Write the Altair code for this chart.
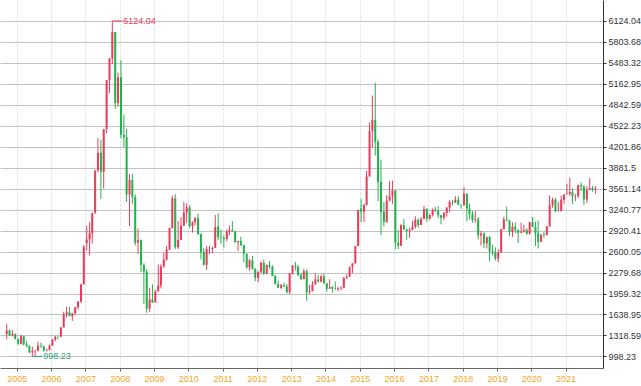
import altair as alt
import pandas as pd

# Monthly OHLC, Sep 2004 .. Nov 2021
opens = [
    1342, 1396, 1320, 1340,  # 2004 Sep-Dec
    1261, 1190, 1306, 1181, 1159, 1060, 1080, 1083, 1162, 1155, 1092, 1099,  # 2005
    1163, 1259, 1299, 1298, 1442, 1641, 1672, 1612, 1658, 1752, 1837, 2099,  # 2006
    2728, 2786, 2881, 3196, 3841, 4109, 3820, 4471, 5218, 5552, 5954, 4871,  # 2007
    5266, 4383, 4348, 3473, 3693, 3433, 2736, 2775, 2397, 2293, 1729, 1871,  # 2008
    1821, 1991, 2082, 2373, 2477, 2633, 2959, 3412, 2667, 2779, 2996, 3195,  # 2009
    3277, 2989, 3051, 3110, 2870, 2592, 2398, 2638, 2639, 2656, 2979, 2820,  # 2010
    2808, 2790, 2905, 2928, 2911, 2743, 2762, 2701, 2568, 2359, 2468, 2333,  # 2011
    2199, 2292, 2428, 2263, 2397, 2373, 2226, 2103, 2047, 2086, 2069, 1980,  # 2012
    2269, 2385, 2366, 2237, 2178, 2301, 1979, 1994, 2098, 2175, 2142, 2221,  # 2013
    2116, 2033, 2056, 2033, 2026, 2039, 2048, 2202, 2217, 2364, 2420, 2683,  # 2014
    3258, 3210, 3310, 3748, 4441, 4612, 4277, 3664, 3206, 3053, 3383, 3445,  # 2015
    3536, 2738, 2688, 3004, 2938, 2917, 2930, 2979, 3085, 3005, 3100, 3250,  # 2016
    3104, 3159, 3242, 3223, 3155, 3117, 3192, 3273, 3361, 3349, 3393, 3317,  # 2017
    3307, 3481, 3259, 3169, 3082, 3095, 2847, 2876, 2725, 2821, 2603, 2588,  # 2018
    2494, 2585, 2941, 3091, 3078, 2899, 2979, 2933, 2886, 2905, 2929, 2872,  # 2019
    3050, 2977, 2880, 2750, 2860, 2852, 2985, 3310, 3396, 3218, 3225, 3392,  # 2020
    3474, 3483, 3509, 3442, 3447, 3615, 3591, 3397, 3544, 3568, 3547,        # 2021
]
highs = [
    1496, 1410, 1399, 1350,
    1274, 1329, 1313, 1232, 1170, 1147, 1100, 1223, 1210, 1160, 1117, 1180,
    1260, 1311, 1307, 1445, 1680, 1757, 1758, 1663, 1756, 1839, 2101, 2698,
    2994, 3049, 3197, 3842, 4335, 4312, 4472, 5221, 5559, 6124.04, 5955, 5336,
    5523, 4695, 4473, 3786, 3786, 3474, 2952, 2785, 2424, 2333, 2049, 2100,
    2012, 2402, 2406, 2579, 2688, 2966, 3454, 3478, 3068, 3123, 3361, 3338,
    3306, 3060, 3128, 3181, 2873, 2651, 2681, 2690, 2676, 3159, 3186, 2937,
    2851, 2937, 3000, 3067, 2912, 2767, 2827, 2707, 2567, 2487, 2536, 2353,
    2300, 2451, 2478, 2401, 2453, 2389, 2242, 2156, 2104, 2121, 2103, 2276,
    2394, 2444, 2398, 2269, 2335, 2327, 2092, 2149, 2270, 2243, 2244, 2260,
    2119, 2177, 2076, 2146, 2061, 2069, 2206, 2249, 2371, 2423, 2683, 3239,
    3406, 3331, 3835, 4573, 4986, 5178, 4317, 4006, 3357, 3459, 3678, 3684,
    3539, 2933, 3019, 3097, 2950, 2961, 3071, 3140, 3108, 3128, 3301, 3265,
    3171, 3260, 3283, 3295, 3160, 3204, 3276, 3387, 3391, 3447, 3451, 3318,
    3587, 3495, 3334, 3220, 3219, 3128, 2915, 2895, 2827, 2838, 2703, 2666,
    2630, 2947, 3129, 3288, 3079, 3047, 3048, 2935, 3042, 3010, 2958, 3051,
    3127, 3058, 3075, 2863, 2897, 2993, 3458, 3425, 3421, 3358, 3457, 3474,
    3637, 3732, 3565, 3481, 3625, 3655, 3615, 3598, 3723, 3603, 3600,
]
lows = [
    1259, 1307, 1302, 1259,
    1177, 1181, 1166, 1136, 1043, 998.23, 1004, 1081, 1127, 1067, 1074, 1091,
    1163, 1232, 1261, 1297, 1441, 1587, 1613, 1542, 1627, 1715, 1816, 2097,
    2618, 2541, 2723, 3173, 3812, 3405, 3563, 4406, 5022, 5462, 4778, 4812,
    4330, 4195, 3357, 2990, 3333, 2693, 2566, 2284, 1802, 1665, 1679, 1814,
    1844, 1991, 2037, 2352, 2461, 2623, 2955, 2639, 2640, 2780, 2995, 3039,
    2963, 2890, 2998, 2852, 2481, 2382, 2319, 2558, 2573, 2657, 2774, 2721,
    2661, 2755, 2850, 2910, 2735, 2610, 2683, 2437, 2337, 2307, 2319, 2149,
    2132, 2272, 2242, 2252, 2336, 2223, 2100, 2040, 2029, 2058, 1959, 1949,
    2246, 2311, 2231, 2161, 2178, 1849, 1952, 1992, 2094, 2125, 2131, 2104,
    1984, 2033, 1974, 2015, 1991, 2010, 2036, 2180, 2214, 2270, 2415, 2683,
    3050, 3050, 3305, 3749, 4188, 4069, 3373, 2850, 2983, 3039, 3370, 3327,
    2638, 2638, 2686, 2936, 2781, 2808, 2929, 2951, 2969, 3008, 3098, 3056,
    3083, 3136, 3205, 3111, 3016, 3082, 3132, 3203, 3308, 3340, 3308, 3254,
    3306, 3062, 3091, 3041, 3041, 2782, 2691, 2653, 2644, 2449, 2543, 2463,
    2440, 2586, 2938, 3062, 2838, 2822, 2880, 2733, 2887, 2891, 2860, 2858,
    2969, 2686, 2647, 2743, 2812, 2847, 2984, 3268, 3202, 3214, 3209, 3325,
    3474, 3453, 3329, 3373, 3416, 3527, 3312, 3344, 3545, 3515, 3484,
]
closes = [
    1396, 1320, 1340, 1266,
    1191, 1306, 1181, 1159, 1060, 1080, 1083, 1162, 1155, 1092, 1099, 1161,
    1258, 1299, 1298, 1440, 1641, 1672, 1612, 1658, 1752, 1837, 2099, 2675,
    2786, 2881, 3183, 3841, 4109, 3820, 4471, 5218, 5552, 5954, 4871, 5262,
    4383, 4348, 3473, 3693, 3433, 2736, 2775, 2397, 2293, 1729, 1871, 1821,
    1991, 2082, 2373, 2477, 2633, 2959, 3412, 2667, 2779, 2996, 3195, 3277,
    2989, 3051, 3110, 2870, 2592, 2398, 2638, 2639, 2656, 2979, 2820, 2808,
    2790, 2905, 2928, 2911, 2743, 2762, 2701, 2568, 2359, 2468, 2333, 2199,
    2292, 2428, 2263, 2397, 2373, 2226, 2103, 2047, 2086, 2069, 1980, 2269,
    2385, 2366, 2237, 2178, 2301, 1979, 1994, 2098, 2175, 2142, 2221, 2116,
    2033, 2056, 2033, 2026, 2039, 2048, 2202, 2217, 2364, 2420, 2683, 3235,
    3210, 3310, 3748, 4441, 4612, 4277, 3664, 3206, 3053, 3383, 3445, 3539,
    2738, 2688, 3004, 2938, 2917, 2930, 2979, 3085, 3005, 3100, 3250, 3104,
    3159, 3242, 3223, 3155, 3117, 3192, 3273, 3361, 3349, 3393, 3317, 3307,
    3481, 3259, 3169, 3082, 3095, 2847, 2876, 2725, 2821, 2603, 2588, 2494,
    2585, 2941, 3091, 3078, 2899, 2979, 2933, 2886, 2905, 2929, 2872, 3050,
    2977, 2880, 2750, 2860, 2852, 2985, 3310, 3396, 3218, 3225, 3392, 3473,
    3483, 3509, 3442, 3447, 3615, 3591, 3397, 3544, 3568, 3547, 3564,
]

y_ticks = [998.23, 1318.59, 1638.95, 1959.32, 2279.68, 2600.05, 2920.41,
           3240.77, 3561.14, 3881.5, 4201.86, 4522.23, 4842.59, 5162.95,
           5483.32, 5803.68, 6124.04]
years = list(range(2005, 2022))

ann_dates = ["2007-10-15", "2005-06-15"]
ann_values = [6124.04, 998.23]
ann_labels = ["6124.04", "998.23"]
ann_kinds = ["max", "min"]

RED = "#ee3a5a"
GREEN = "#22b24c"

months = pd.date_range("2004-09-01", periods=len(closes), freq="MS")
df = pd.DataFrame({
    "date": (months + pd.Timedelta(days=14)).strftime("%Y-%m-%d"),
    "open": opens, "high": highs, "low": lows, "close": closes,
})
df["dir"] = ["up" if c >= o else "down" for o, c in zip(opens, closes)]

ann = pd.DataFrame({"date": ann_dates, "value": ann_values,
                    "label": ann_labels, "kind": ann_kinds})

xscale = alt.Scale(type="utc", domain=["2004-08-28", "2021-12-12"])
xaxis = alt.Axis(values=[alt.DateTime(year=y, month=1, date=1, utc=True) for y in years],
                 format="%Y", formatType="utc", title=None,
                 labelColor="#f5a623", labelFontSize=9, labelFont="Liberation Sans",
                 labelPadding=3, tickSize=3, tickColor="#666", domainColor="#666",
                 grid=True, gridDash=[2, 2], gridColor="#d8d8d8", gridWidth=1)
yscale = alt.Scale(domain=[821, 6444.4], nice=False, zero=False)
yaxis = alt.Axis(orient="right", values=y_ticks, labelExpr="'' + datum.value",
                 title=None, labelColor="#333", labelFontSize=9,
                 labelFont="Liberation Sans", labelPadding=2, tickSize=3,
                 tickColor="#333", domainColor="#333",
                 grid=True, gridColor="#c2c2c2", gridWidth=1)

color = alt.Color("dir:N", scale=alt.Scale(domain=["up", "down"], range=[RED, GREEN]),
                  legend=None)

base = alt.Chart(df)
wick = base.mark_rule(strokeWidth=1).encode(
    x=alt.X("date:T", scale=xscale, axis=xaxis),
    y=alt.Y("low:Q", scale=yscale, axis=yaxis),
    y2="high:Q",
    color=color,
)
body = base.mark_bar(size=2).encode(
    x=alt.X("date:T", scale=xscale, axis=xaxis),
    y=alt.Y("open:Q", scale=yscale, axis=yaxis),
    y2="close:Q",
    color=color,
)

acolor = alt.Color("kind:N", scale=alt.Scale(domain=["max", "min"], range=[RED, "#1fa37a"]),
                   legend=None)
aline = alt.Chart(ann).mark_rule(strokeWidth=1, x2Offset=10).encode(
    x=alt.X("date:T", scale=xscale, axis=xaxis),
    x2="date:T",
    y=alt.Y("value:Q", scale=yscale, axis=yaxis),
    color=acolor,
)
atext = alt.Chart(ann).mark_text(align="left", baseline="middle", dx=11,
                                 fontSize=9, font="Liberation Sans").encode(
    x=alt.X("date:T", scale=xscale, axis=xaxis),
    y=alt.Y("value:Q", scale=yscale, axis=yaxis),
    text="label:N",
    color=acolor,
)

chart = alt.layer(wick, body, aline, atext).resolve_scale(color="independent").properties(
    width=603, height=368, padding={"left": 0, "top": 0, "right": 0, "bottom": 0}
).configure_view(stroke=None)

chart.save("out.html", embed_options={"renderer": "svg", "actions": False})
